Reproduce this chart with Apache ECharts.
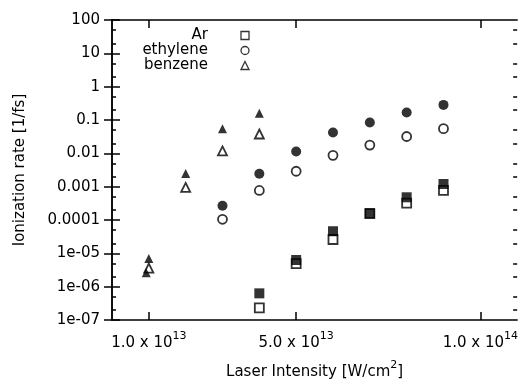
<!DOCTYPE html>
<html>
<head>
<meta charset="utf-8">
<script src="https://cdn.jsdelivr.net/npm/echarts@6/dist/echarts.min.js"></script>
<style>html,body{margin:0;padding:0;background:#fff;}#c{width:521px;height:385px;}</style>
</head>
<body>
<div id="c"></div>
<script>
// ---- data ----
const arX = [4e13, 5e13, 6e13, 7e13, 8e13, 9e13];
const arOpenY = [2.3e-7, 4.9e-6, 2.6e-5, 1.55e-4, 3.2e-4, 7.7e-4];
const arFilledY = [6.3e-7, 6.3e-6, 4.6e-5, 1.6e-4, 4.8e-4, 1.2e-3];

const ethX = [3e13, 4e13, 5e13, 6e13, 7e13, 8e13, 9e13];
const ethOpenY = [1.05e-4, 7.7e-4, 2.9e-3, 8.7e-3, 1.77e-2, 3.2e-2, 5.5e-2];
const ethFilledY = [2.66e-4, 2.45e-3, 1.14e-2, 4.2e-2, 8.4e-2, 0.167, 0.284];

const benzOpenX = [1e13, 2e13, 3e13, 4e13];
const benzOpenY = [3.6e-6, 9.5e-4, 1.18e-2, 3.8e-2];
const benzFilledX = [1e13, 0.93e13, 2e13, 3e13, 4e13];
const benzFilledY = [7e-6, 2.6e-6, 2.5e-3, 5.5e-2, 0.16];

// ---- ticks ----
const xTicks = [1e13, 5e13, 1e14];
const xTickMant = ['1.0 x 10', '5.0 x 10', '1.0 x 10'];
const xTickExp = ['13', '13', '14'];
const yMajor = [1e-7, 1e-6, 1e-5, 1e-4, 1e-3, 1e-2, 1e-1, 1, 10, 100];
const yLabels = ['1e-07', '1e-06', '1e-05', '0.0001', '0.001', '0.01', '0.1', '1', '10', '100'];
const yMinor = [2e-7, 5e-7, 2e-6, 5e-6, 2e-5, 5e-5, 2e-4, 5e-4, 2e-3, 5e-3, 2e-2, 5e-2, 0.2, 0.5, 2, 5, 20, 50];

const zip = (xs, ys) => xs.map((x, i) => [x, ys[i]]);
const FONT = 'DejaVu Sans';
const black = '#000';
const lineS = {color: black, width: 1.5};

function yAx(pos, major, showLabel) {
  return {
    type: 'log', logBase: 10, min: 1e-7, max: 100, position: pos,
    axisLine: {show: major, lineStyle: lineS},
    axisTick: {show: true, inside: true, length: major ? 8 : 4,
      customValues: major ? yMajor : yMinor, lineStyle: lineS},
    axisLabel: showLabel ? {
      show: true, customValues: yMajor, margin: 12,
      fontFamily: FONT, fontSize: 15, color: black,
      formatter: v => yLabels[Math.round(Math.log10(v)) + 7]
    } : {show: false},
    splitLine: {show: false}, minorTick: {show: false}
  };
}

const yAxes = [yAx('left', true, true), yAx('right', true, false), yAx('left', false, false), yAx('right', false, false)];
yAxes[0].name = 'Ionization rate [1/fs]';
yAxes[0].nameLocation = 'middle';
yAxes[0].nameGap = 84;
yAxes[0].nameTextStyle = {fontFamily: FONT, fontSize: 15, color: black};

function xAx(pos, showLabel) {
  const a = {
    type: 'value', min: 0, max: 1.1e14, position: pos,
    axisLine: {show: true, lineStyle: lineS},
    axisTick: {show: true, inside: true, length: 8, customValues: xTicks, lineStyle: lineS},
    splitLine: {show: false},
    axisLabel: {show: false}
  };
  if (showLabel) {
    a.axisLabel = {
      show: true, customValues: xTicks, margin: 11, color: black,
      formatter: v => {
        const i = xTicks.indexOf(v);
        return '{b|' + xTickMant[i] + '}{s|' + xTickExp[i] + '}';
      },
      rich: {
        b: {fontFamily: FONT, fontSize: 15, color: black, lineHeight: 20, verticalAlign: 'bottom'},
        s: {fontFamily: FONT, fontSize: 11, color: black, lineHeight: 20, verticalAlign: 'top'}
      }
    };
    a.name = '{b|Laser Intensity [W/cm}{s|2}{b|]}';
    a.nameLocation = 'middle';
    a.nameGap = 40;
    a.nameTextStyle = {
      rich: {
        b: {fontFamily: FONT, fontSize: 15, color: black, lineHeight: 20, verticalAlign: 'bottom'},
        s: {fontFamily: FONT, fontSize: 11, color: black, lineHeight: 20, verticalAlign: 'top'}
      }
    };
  }
  return a;
}

const openStyle = {color: '#fff', borderColor: black, borderWidth: 1.8};
const fillStyle = {color: black, borderColor: black, borderWidth: 0};

const option = {
  animation: false,
  backgroundColor: '#fff',
  grid: {left: 112, right: 3, top: 20, bottom: 54, containLabel: false},
  xAxis: [xAx('bottom', true), xAx('top', false)],
  yAxis: yAxes,
  legend: {
    orient: 'vertical', left: 128, top: 28, padding: 0, align: 'right',
    itemGap: 0, itemWidth: 8, itemHeight: 8,
    itemStyle: {borderWidth: 1.3},
    data: ['Ar', 'ethylene', 'benzene'],
    formatter: '{t|{name}}{g|}',
    textStyle: {
      rich: {
        t: {width: 80, align: 'right', fontFamily: FONT, fontSize: 15, color: black, lineHeight: 17},
        g: {width: 28}
      }
    }
  },
  series: [
    {name: 'Ar', type: 'scatter', symbol: 'rect', symbolSize: 9, itemStyle: openStyle, data: zip(arX, arOpenY), z: 2},
    {name: 'ethylene', type: 'scatter', symbol: 'circle', symbolSize: 9, itemStyle: openStyle, data: zip(ethX, ethOpenY), z: 2},
    {name: 'benzene', type: 'scatter', symbol: 'triangle', symbolSize: 9, itemStyle: openStyle, data: zip(benzOpenX, benzOpenY), z: 2},
    {name: 'Ar filled', type: 'scatter', symbol: 'rect', symbolSize: 10, itemStyle: fillStyle, data: zip(arX, arFilledY), z: 3},
    {name: 'ethylene filled', type: 'scatter', symbol: 'circle', symbolSize: 10, itemStyle: fillStyle, data: zip(ethX, ethFilledY), z: 3},
    {name: 'benzene filled', type: 'scatter', symbol: 'triangle', symbolSize: 9, itemStyle: fillStyle, data: zip(benzFilledX, benzFilledY), z: 3}
  ]
};

const chart = echarts.init(document.getElementById('c'), null, {renderer: 'canvas'});
chart.setOption(option);
</script>
</body>
</html>
